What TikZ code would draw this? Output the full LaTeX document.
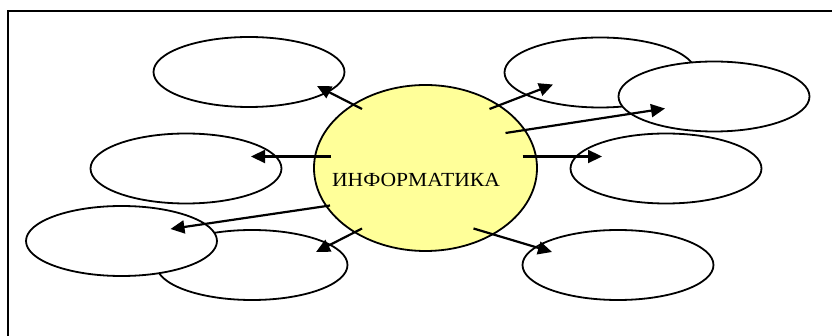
\documentclass[tikz,border=0pt]{standalone}
\usepackage{fontspec}
\setmainfont{Liberation Serif}
\usetikzlibrary{shapes.geometric,arrows.meta}
\definecolor{centerfill}{RGB}{255,255,153}
\tikzset{
  x=1pt, y=-1pt,
  bubble/.style={draw=black, line width=1.8pt, fill=white, ellipse, inner sep=0pt, minimum width=191pt, minimum height=70pt},
  hub/.style={draw=black, line width=1.8pt, fill=centerfill, ellipse, inner sep=0pt, minimum width=223pt, minimum height=166pt},
  link/.style={line width=2.2pt, -{Triangle[length=14pt,width=13pt]}},
  frameline/.style={line width=2pt}
}
\begin{document}
\begin{tikzpicture}
\useasboundingbox (0,0) rectangle (832,336);
% frame
\coordinate (f1) at (8,337);
\coordinate (f2) at (8,11);
\coordinate (f3) at (833,11);
\draw[frameline] (f1) -- (f2) -- (f3);
% back bubbles
\node[bubble] (tl) at (249,72) {};
\node[bubble] (ml) at (186,168.5) {};
\node[bubble] (blb) at (252,265) {};
\node[bubble] (blf) at (121.5,241) {};
\node[bubble] (trb) at (600,72.5) {};
\node[bubble] (trf) at (714,96.5) {};
\node[bubble] (mr) at (666,168.5) {};
\node[bubble] (br) at (618,265) {};
% hub
\node[hub] (c) at (425.5,168) {};
\node[font=\fontsize{20}{24}\selectfont, inner sep=0pt, xscale=1.08] (lbl) at (416,179.5) {ИНФОРМАТИКА};
% arrow ends
\coordinate (s1) at (362,109);  \coordinate (t1) at (317,86);
\coordinate (s2) at (331,156.5); \coordinate (t2) at (251,156.5);
\coordinate (s3) at (330,205.5); \coordinate (t3) at (170.5,229);
\coordinate (s4) at (362,228.5); \coordinate (t4) at (316,252);
\coordinate (s5) at (489.5,109); \coordinate (t5) at (553,84.5);
\coordinate (s6) at (505.5,133); \coordinate (t6) at (665,108.5);
\coordinate (s7) at (522.5,156.5); \coordinate (t7) at (602,156.5);
\coordinate (s8) at (473.5,228.5); \coordinate (t8) at (552,252);
\foreach \i in {1,...,8} { \draw[link] (s\i) -- (t\i); }
\end{tikzpicture}
\end{document}
